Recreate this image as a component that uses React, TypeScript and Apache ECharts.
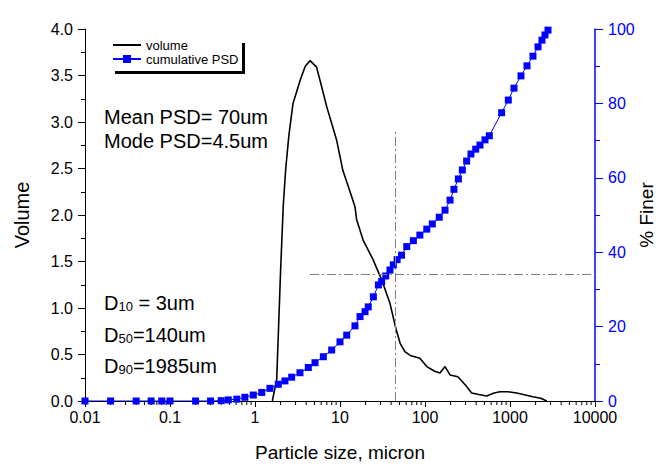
import React, { useEffect, useRef } from "react";
import * as echarts from "echarts";

const xTickLabels = ["0.01", "0.1", "1", "10", "100", "1000", "10000"];

const volumeSize = [1.6, 1.8, 2.0, 2.15, 2.3, 2.5, 2.8, 3.4, 3.9, 4.45, 5.3, 6.0, 7.0, 9.1, 10.8, 13.7, 15, 15.7, 18.7, 24.5, 31, 38.7, 46, 51, 58, 67, 87, 105, 130, 150, 172, 197, 244, 300, 354, 430, 532, 650, 762, 950, 1200, 1860, 2300, 2700];
const volumeValue = [0, 0.23, 1.4, 2.1, 2.5, 2.85, 3.2, 3.45, 3.6, 3.66, 3.59, 3.4, 3.16, 2.81, 2.48, 2.2, 2.09, 1.95, 1.73, 1.52, 1.3, 1.05, 0.76, 0.62, 0.53, 0.49, 0.46, 0.37, 0.32, 0.3, 0.37, 0.28, 0.26, 0.17, 0.086, 0.07, 0.054, 0.085, 0.1, 0.1, 0.086, 0.046, 0.03, 0];

const psdSize = [0.01, 0.02, 0.04, 0.06, 0.08, 0.1, 0.2, 0.3, 0.4, 0.485, 0.61, 0.76, 0.955, 1.2, 1.5, 1.88, 2.25, 2.7, 3.38, 4.24, 5.08, 6.37, 7.98, 10, 12, 15, 17.2, 19.7, 21.5, 24.7, 28.3, 30.9, 34.5, 38.7, 42.4, 47, 53, 61, 73, 87, 105, 122, 147, 172, 197, 219, 247, 275, 309, 347, 395, 443, 508, 571, 797, 955, 1114, 1346, 1585, 1862, 2137, 2377, 2580, 2800];
const psdFiner = [0, 0, 0, 0, 0, 0, 0, 0, 0.1, 0.3, 0.5, 1.0, 1.6, 2.3, 3.4, 4.5, 5.4, 6.4, 7.6, 9.0, 10.3, 11.9, 13.7, 15.9, 17.7, 20.2, 22.7, 24.0, 25.3, 28.0, 31.2, 32.1, 33.6, 35.2, 36.6, 38.0, 39.2, 41.5, 43.1, 44.6, 46.2, 47.6, 49.4, 51.3, 54.0, 56.9, 59.7, 62.1, 64.5, 66.4, 67.7, 68.8, 70.2, 71.3, 77.5, 80.9, 84.1, 87.4, 90.1, 92.7, 95.2, 97.0, 98.4, 99.7];

const minorXTicks: number[] = [];
for (let d = -2; d <= 3; d++) {
  for (let m = 2; m <= 9; m++) minorXTicks.push(m * Math.pow(10, d));
}

const FONT = "'Liberation Sans', Arial, sans-serif";

const dText = (sub: string, rest: string) => ({
  text: `{m|D}{s|${sub}}{m|${rest}}`,
  fill: "#000",
  verticalAlign: "middle",
  rich: {
    m: { fontSize: 20, fontFamily: FONT, fill: "#000" },
    s: { fontSize: 13, fontFamily: FONT, fill: "#000", verticalAlign: "bottom" },
  },
});

export default function App() {
  const ref = useRef<HTMLDivElement>(null);
  useEffect(() => {
    if (!ref.current) return;
    const chart = echarts.init(ref.current, null, { renderer: "svg" });
    const option: any = {
      animation: false,
      backgroundColor: "#ffffff",
      textStyle: { fontFamily: FONT },
      grid: { left: 85, right: 67, top: 29, bottom: 65, outerBoundsMode: "none", containLabel: false },
      legend: {
        data: [
          { name: "volume", itemStyle: { opacity: 0 } },
          { name: "cumulative PSD" },
        ],
        orient: "vertical",
        left: 112,
        top: 38,
        padding: 0,
        itemWidth: 28,
        itemHeight: 10,
        itemGap: 0,
        textStyle: { fontSize: 13, color: "#000", fontFamily: FONT, lineHeight: 14 },
        selectedMode: false,
      },
      xAxis: {
        type: "log",
        logBase: 10,
        min: 0.01,
        max: 10000,
        splitNumber: 6,
        name: "Particle size, micron",
        nameLocation: "middle",
        nameGap: 42,
        nameTextStyle: { fontSize: 19, color: "#000", fontFamily: FONT },
        axisLine: { show: true, onZero: false, lineStyle: { color: "#000", width: 1 } },
        axisTick: { show: true, length: 6, lineStyle: { color: "#000" } },
        axisLabel: {
          fontSize: 16,
          color: "#000",
          margin: 8,
          fontFamily: FONT,
          formatter: (v: number) => xTickLabels[Math.round(Math.log10(v)) + 2] ?? "",
        },
        splitLine: { show: false },
      },
      yAxis: [
        {
          type: "value",
          position: "left",
          min: 0,
          max: 4,
          interval: 0.5,
          name: "Volume",
          nameLocation: "middle",
          nameGap: 53,
          nameRotate: 90,
          nameTextStyle: { fontSize: 20, color: "#000", fontFamily: FONT },
          axisLine: { show: true, lineStyle: { color: "#000", width: 1 } },
          axisTick: { show: true, length: 7, lineStyle: { color: "#000" } },
          minorTick: { show: true, splitNumber: 2, length: 4, lineStyle: { color: "#000" } },
          axisLabel: { fontSize: 16, color: "#000", margin: 12, fontFamily: FONT, formatter: (v: number) => v.toFixed(1) },
          splitLine: { show: false },
        },
        {
          type: "value",
          position: "right",
          min: 0,
          max: 100,
          interval: 20,
          name: "% Finer",
          nameLocation: "middle",
          nameGap: 42,
          nameMoveOverlap: false,
          nameRotate: 90,
          nameTextStyle: { fontSize: 19, color: "#000", fontFamily: FONT },
          axisLine: { show: true, lineStyle: { color: "#0000ff", width: 1.5 } },
          axisTick: { show: true, length: 8, lineStyle: { color: "#0000ff" } },
          minorTick: { show: true, splitNumber: 2, length: 5, lineStyle: { color: "#0000ff" } },
          axisLabel: { fontSize: 16, color: "#0000ff", margin: 13, fontFamily: FONT },
          splitLine: { show: false },
        },
      ],
      series: [
        {
          name: "volume",
          type: "line",
          xAxisIndex: 0,
          yAxisIndex: 0,
          data: volumeSize.map((s, i) => [s, volumeValue[i]]),
          showSymbol: false,
          symbol: "none",
          lineStyle: { color: "#000", width: 1.6 },
          itemStyle: { color: "#000" },
          z: 3,
          markLine: {
            silent: true,
            symbol: "none",
            label: { show: false },
            lineStyle: { color: "#808080", type: [9, 3, 2, 3], width: 1 },
            data: [
              [{ coord: [45, 0] }, { coord: [45, 2.92] }],
              [{ coord: [4.44, 1.36] }, { coord: [10000, 1.36] }],
            ],
          },
        },
        {
          name: "cumulative PSD",
          type: "line",
          xAxisIndex: 0,
          yAxisIndex: 1,
          data: psdSize.map((s, i) => [s, psdFiner[i]]),
          symbol: "rect",
          symbolSize: 7,
          showSymbol: true,
          lineStyle: { color: "#0000ff", width: 1 },
          itemStyle: { color: "#0000ff" },
          z: 4,
        },
        {
          name: "minorTicks",
          type: "custom",
          xAxisIndex: 0,
          yAxisIndex: 0,
          silent: true,
          clip: false,
          data: minorXTicks.map((v) => [v, 0]),
          renderItem: (params: any, api: any) => {
            const p = api.coord([api.value(0), 0]);
            return {
              type: "line",
              shape: { x1: p[0], y1: p[1], x2: p[0], y2: p[1] + 4 },
              style: { stroke: "#000", lineWidth: 1 },
            };
          },
          z: 2,
        },
      ],
      graphic: [
        { type: "rect", shape: { x: 115, y: 71, width: 130, height: 3 }, style: { fill: "#000" } },
        { type: "rect", shape: { x: 242, y: 43, width: 3, height: 31 }, style: { fill: "#000" } },
        { type: "text", x: 104, y: 117, style: { text: "Mean PSD= 70um", font: `20px ${FONT}`, fill: "#000", verticalAlign: "middle" } },
        { type: "text", x: 104, y: 141, style: { text: "Mode PSD=4.5um", font: `20px ${FONT}`, fill: "#000", verticalAlign: "middle" } },
        { type: "text", x: 104, y: 303, style: dText("10", " = 3um") },
        { type: "text", x: 104, y: 335, style: dText("50", "=140um") },
        { type: "text", x: 104, y: 366, style: dText("90", "=1985um") },
      ],
    };
    chart.setOption(option);
    return () => chart.dispose();
  }, []);
  return <div ref={ref} style={{ width: 662, height: 466, position: "absolute", left: 0, top: 0 }} />;
}
